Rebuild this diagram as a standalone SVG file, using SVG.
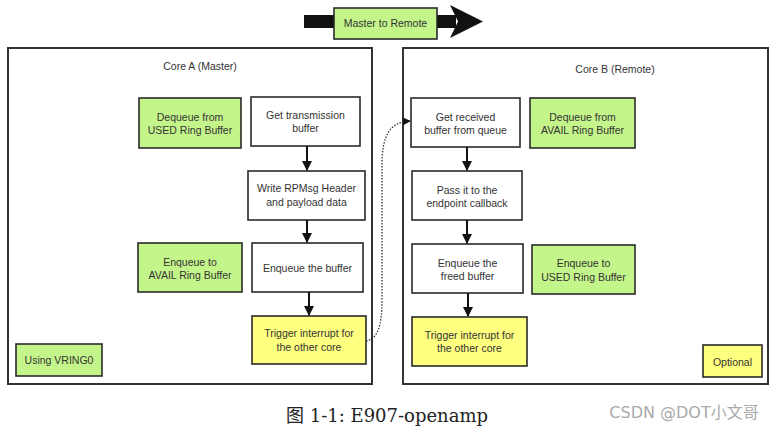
<svg xmlns="http://www.w3.org/2000/svg" width="775" height="429" viewBox="0 0 775 429">
<defs>
<marker id="ah" viewBox="0 0 10 10" refX="9" refY="5" markerWidth="5" markerHeight="5" orient="auto" markerUnits="strokeWidth"><path d="M0,0 L10,5 L0,10 z" fill="#111"/></marker>
<marker id="ahd" viewBox="0 0 10 10" refX="9" refY="5" markerWidth="8" markerHeight="8" orient="auto" markerUnits="userSpaceOnUse"><path d="M0,0 L10,5 L0,10 z" fill="#111"/></marker>
</defs>
<style>
.core{fill:#fff;stroke:#333;stroke-width:2}
.box{stroke:#2a2a2a;stroke-width:1.6}
.w{fill:#fff}
.g{fill:#c4f58b}
.y{fill:#ffff80}
text{font-family:"Liberation Sans",Arial,sans-serif;font-size:10.5px;fill:#333;text-anchor:middle}
.conn{stroke:#111;stroke-width:2;fill:none}
.dot{stroke:#333;stroke-width:1.3;fill:none;stroke-dasharray:1.5 1.5}
</style>
<rect width="775" height="429" fill="#fff"/>
<g id="containers">
<rect class="core" x="8" y="48" width="364" height="336"/>
<rect class="core" x="403" y="48" width="365" height="336"/>
<text x="200" y="70">Core A (Master)</text>
<text x="615" y="73">Core B (Remote)</text>
</g>
<g id="direction">
<rect x="304" y="15" width="152" height="13" fill="#111"/>
<path d="M450,5 L483,21.5 L450,38 L458,21.5 z" fill="#111"/>
<rect class="box g" x="334" y="8" width="103" height="31"/>
<text x="385.5" y="27">Master to Remote</text>
</g>
<g id="a_dequeue_used"><rect class="box g" x="139" y="98" width="102" height="50"/><text x="190" y="121">Dequeue from</text><text x="190" y="134">USED Ring Buffer</text></g>
<g id="a_get_tx"><rect class="box w" x="251" y="97" width="109" height="49"/><text x="305.5" y="119">Get transmission</text><text x="305.5" y="132">buffer</text></g>
<g id="a_write"><rect class="box w" x="248" y="171" width="117" height="49"/><text x="306.5" y="192">Write RPMsg Header</text><text x="306.5" y="206">and payload data</text></g>
<g id="a_enqueue_avail"><rect class="box g" x="138" y="243" width="104" height="49"/><text x="190" y="266">Enqueue to</text><text x="190" y="279">AVAIL Ring Buffer</text></g>
<g id="a_enqueue"><rect class="box w" x="252" y="243" width="111" height="49"/><text x="307.5" y="272">Enqueue the buffer</text></g>
<g id="a_trigger"><rect class="box y" x="252" y="316" width="114" height="48"/><text x="309" y="337">Trigger interrupt for</text><text x="309" y="351">the other core</text></g>
<g id="a_vring"><rect class="box g" x="16" y="344" width="86" height="32"/><text x="59" y="364">Using VRING0</text></g>
<g id="b_get_rx"><rect class="box w" x="411" y="98" width="109" height="49"/><text x="465.5" y="121">Get received</text><text x="465.5" y="134">buffer from queue</text></g>
<g id="b_dequeue_avail"><rect class="box g" x="530" y="98" width="105" height="50"/><text x="582.5" y="121">Dequeue from</text><text x="582.5" y="134">AVAIL Ring Buffer</text></g>
<g id="b_pass"><rect class="box w" x="412" y="171" width="110" height="49"/><text x="467" y="194">Pass it to the</text><text x="467" y="207">endpoint callback</text></g>
<g id="b_enqueue_freed"><rect class="box w" x="412" y="244" width="111" height="49"/><text x="467.5" y="267">Enqueue the</text><text x="467.5" y="280">freed buffer</text></g>
<g id="b_enqueue_used"><rect class="box g" x="532" y="245" width="103" height="49"/><text x="583.5" y="267">Enqueue to</text><text x="583.5" y="281">USED Ring Buffer</text></g>
<g id="b_trigger"><rect class="box y" x="412" y="317" width="115" height="49"/><text x="469.5" y="339">Trigger interrupt for</text><text x="469.5" y="352">the other core</text></g>
<g id="b_optional"><rect class="box y" x="703" y="345" width="59" height="32"/><text x="732.5" y="366">Optional</text></g>
<g id="connectors">
<line class="conn" x1="307" y1="146" x2="307" y2="170" marker-end="url(#ah)"/>
<line class="conn" x1="307" y1="220" x2="307" y2="242" marker-end="url(#ah)"/>
<line class="conn" x1="309" y1="292" x2="309" y2="315" marker-end="url(#ah)"/>
<line class="conn" x1="467" y1="147" x2="467" y2="170" marker-end="url(#ah)"/>
<line class="conn" x1="467" y1="220" x2="467" y2="243" marker-end="url(#ah)"/>
<line class="conn" x1="468" y1="293" x2="468" y2="316" marker-end="url(#ah)"/>
<path class="dot" d="M366,341 C378,339 382,325 382,300 L382,165 C382,135 390,122 410,121" marker-end="url(#ahd)"/>
</g>
<text x="387" y="422" style="font-family:'DejaVu Serif','Noto Sans CJK SC',serif;font-size:18px;fill:#222">图 1-1: E907-openamp</text>
<text x="684" y="418" style="font-family:'DejaVu Sans','Noto Sans CJK SC',sans-serif;font-size:16px;fill:#aaa">CSDN @DOT小文哥</text>
</svg>
